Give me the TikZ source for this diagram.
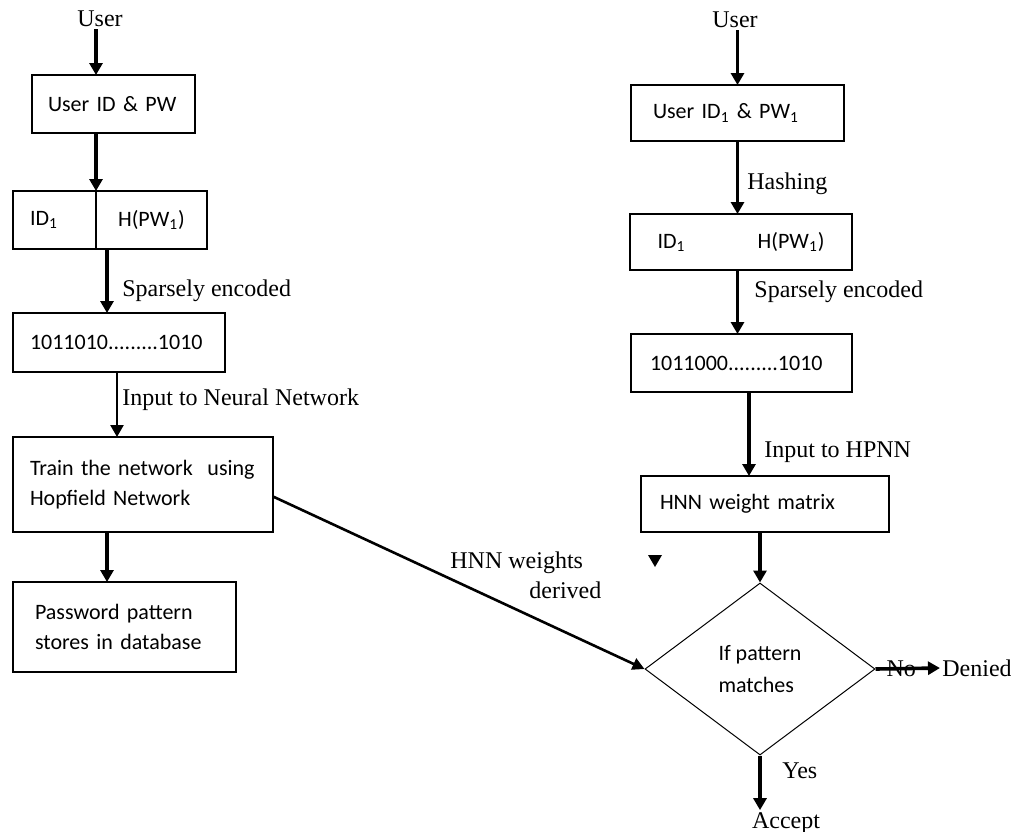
\documentclass[tikz,border=0pt]{standalone}
\usepackage{fontspec}
\setmainfont{Liberation Serif}
\newfontfamily\boxfont{Carlito}
\usetikzlibrary{positioning}
\usetikzlibrary{calc}
\usetikzlibrary{arrows.meta}
\usetikzlibrary{shapes.geometric}

\begin{document}
\begin{tikzpicture}[
    x=0.5pt, y=-0.5pt,
    box/.style={draw, line width=0.9pt, outer sep=0pt, anchor=north west, align=left, inner ysep=0pt, font=\boxfont\fontsize{11}{15}\selectfont},
    lbl/.style={font=\fontsize{12}{15}\selectfont, inner sep=1pt},
    flow/.style={-{Triangle[length=6pt, width=6.5pt]}, line width=1.8pt},
    >=latex
]
    \useasboundingbox (0,0) rectangle (1011,831);

    % registration side
    \node[lbl] (u1) at (100,19) {User};
    \node[box, inner xsep=8pt, text width=65.5pt, minimum height=29pt] (uid) at (32,75) {User ID \& PW};
    \node[box, inner xsep=8.5pt, text width=24.5pt, minimum height=29pt] (id1) at (13,191) {ID\textsubscript{1}};
    \node[box, align=center, minimum width=55.5pt, minimum height=29pt] (hpw1) at (id1.north east) {H(PW\textsubscript{1})};
    \node[box, inner xsep=8.5pt, text width=89pt, minimum height=29.5pt] (code1) at (13,313) {1011010.........1010};
    \node[box, inner xsep=8.5pt, text width=113pt, minimum height=47.5pt] (train) at (13,437) {Train the network \ using\\Hopfield Network};
    \node[box, inner xsep=11pt, text width=89.5pt, minimum height=45pt] (db) at (13,582) {Password pattern\\stores in database};

    \node[lbl, anchor=west] (sp1) at (120,291) {Sparsely encoded};
    \node[lbl, anchor=west] (inn) at (120,400) {Input to Neural Network};

    \draw[flow] (u1.south -| id1.north east) -- (id1.north east |- uid.north);
    \draw[flow] (id1.north east |- uid.south) -- (id1.north east);
    \draw[flow] ([xshift=5.5pt]id1.south east) -- ([xshift=5.5pt]id1.south east |- code1.north);
    \draw[flow, line width=1.2pt] ([xshift=-1pt]code1.south) -- ([xshift=-1pt]code1.south |- train.north);
    \draw[flow] ([xshift=-8.75pt]db.north |- train.south) -- ([xshift=-8.75pt]db.north);

    % login side
    \node[lbl] (u2) at (735,20) {User};
    \node[box, inner xsep=11pt, text width=84.5pt, minimum height=28pt] (uid2) at (631,85) {User ID\textsubscript{1} \& PW\textsubscript{1}};
    \node[box, inner xsep=13.75pt, text width=83.5pt, minimum height=28pt] (hid2) at (630,214) {\makebox[83.5pt][s]{ID\textsubscript{1}\hfill H(PW\textsubscript{1})}};
    \node[box, inner xsep=9.5pt, text width=91.5pt, minimum height=29pt] (code2) at (631,334) {1011000.........1010};
    \node[box, inner xsep=9.5pt, text width=105pt, minimum height=28pt] (wmat) at (641,476) {HNN weight matrix};
    \node[draw, diamond, line width=0.5pt, minimum width=115pt, minimum height=86pt, inner sep=0pt, align=left,
        font=\boxfont\fontsize{11}{16}\selectfont] (dia) at (760,669) {If pattern\\matches};

    \node[lbl, anchor=west] (hash) at (745,184) {Hashing};
    \node[lbl, anchor=west] (sp2) at (752,292) {Sparsely encoded};
    \node[lbl, anchor=west] (inh) at (762,452) {Input to HPNN};
    \node[lbl, anchor=west, align=left] (der) at (448,575) {HNN weights\\\hspace*{39.5pt}derived};
    \node[lbl] (den) at (977,668) {Denied};
    \node[lbl] (acc) at (786,823) {Accept};
    \node[lbl, anchor=west] (yes) at (780,771) {Yes};

    \draw[flow] (u2.south -| uid2.north) -- (uid2.north);
    \draw[flow] (uid2.south) -- (uid2.south |- hid2.north);
    \draw[flow] (uid2.south |- hid2.south) -- (uid2.south |- code2.north);
    \draw[flow] ([xshift=3.75pt]code2.south) -- ([xshift=3.75pt]code2.south |- wmat.north);
    \draw[flow] (dia.north |- wmat.south) -- (dia.north);
    \draw[flow] (dia.south) -- (dia.south |- acc.north);
    \draw[flow] (dia.east) -- (den.west) node[lbl, pos=0.4] (no) {No};

    \draw[-{Triangle[length=6pt, width=6pt]}, line width=1.3pt] ([yshift=-6pt]train.east) -- (dia.west);
    \fill (648,555) -- (662,555) -- (655,567) -- cycle;
\end{tikzpicture}
\end{document}
